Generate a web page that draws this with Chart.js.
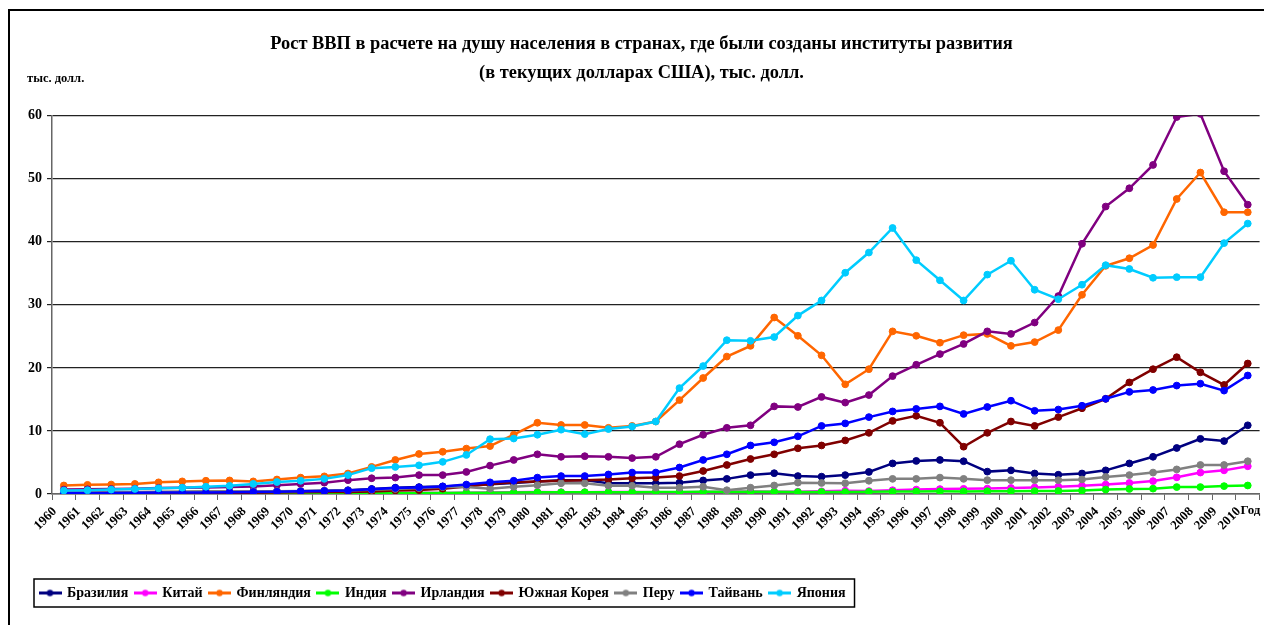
<!DOCTYPE html>
<html>
<head>
<meta charset="utf-8">
<script src="https://cdn.jsdelivr.net/npm/chart.js@4.4.0/dist/chart.umd.min.js"></script>
<style>
html, body { margin: 0; padding: 0; background: #fff; overflow: hidden; }
#wrap { position: relative; width: 1264px; height: 625px; }
</style>
</head>
<body>
<div id="wrap"><canvas id="gdpChart"></canvas></div>
<script>
const years = ['1960','1961','1962','1963','1964','1965','1966','1967','1968','1969',
  '1970','1971','1972','1973','1974','1975','1976','1977','1978','1979',
  '1980','1981','1982','1983','1984','1985','1986','1987','1988','1989',
  '1990','1991','1992','1993','1994','1995','1996','1997','1998','1999',
  '2000','2001','2002','2003','2004','2005','2006','2007','2008','2009','2010'];

const yTicks = [0, 10, 20, 30, 40, 50, 60];

// тыс. долл. на душу населения
const brazil = [0.20,0.20,0.25,0.28,0.26,0.26,0.30,0.33,0.35,0.38,
  0.44,0.50,0.60,0.80,1.00,1.10,1.20,1.35,1.55,1.75,
  2.00,2.20,2.20,1.70,1.70,1.70,1.80,2.15,2.40,3.00,
  3.30,2.85,2.75,3.00,3.50,4.85,5.25,5.40,5.20,3.55,
  3.75,3.25,3.05,3.25,3.75,4.85,5.90,7.30,8.75,8.40,10.90];
const china = [0.09,0.08,0.07,0.07,0.08,0.10,0.10,0.09,0.09,0.10,
  0.11,0.12,0.13,0.16,0.16,0.18,0.17,0.19,0.22,0.26,
  0.30,0.28,0.28,0.30,0.30,0.29,0.28,0.30,0.36,0.40,
  0.34,0.36,0.42,0.52,0.47,0.60,0.70,0.78,0.82,0.86,
  0.95,1.05,1.15,1.30,1.50,1.75,2.05,2.65,3.40,3.75,4.40];
const finland = [1.35,1.45,1.50,1.60,1.85,2.00,2.10,2.15,2.00,2.30,
  2.60,2.80,3.25,4.30,5.40,6.35,6.70,7.20,7.60,9.40,
  11.30,10.95,10.95,10.50,10.80,11.50,14.90,18.40,21.80,23.50,
  28.00,25.10,22.00,17.40,19.80,25.80,25.10,24.00,25.20,25.40,
  23.50,24.10,26.00,31.60,36.20,37.40,39.50,46.80,51.00,44.70,44.70];
const india = [0.08,0.09,0.09,0.10,0.11,0.12,0.09,0.10,0.10,0.11,
  0.11,0.12,0.12,0.14,0.16,0.16,0.16,0.19,0.20,0.22,
  0.27,0.27,0.28,0.29,0.28,0.30,0.31,0.34,0.36,0.35,
  0.37,0.31,0.32,0.30,0.35,0.38,0.40,0.42,0.41,0.44,
  0.45,0.46,0.48,0.55,0.70,0.80,0.85,1.10,1.10,1.25,1.35];
const ireland = [0.70,0.75,0.80,0.85,0.95,1.00,1.05,1.10,1.20,1.40,
  1.60,1.80,2.20,2.50,2.60,3.00,3.00,3.50,4.50,5.40,
  6.30,5.90,6.00,5.90,5.70,5.90,7.90,9.40,10.50,10.90,
  13.90,13.80,15.40,14.50,15.70,18.70,20.50,22.20,23.80,25.80,
  25.40,27.20,31.40,39.70,45.60,48.50,52.20,59.80,60.30,51.20,45.90];
const korea = [0.16,0.10,0.11,0.15,0.12,0.11,0.13,0.16,0.20,0.25,
  0.28,0.30,0.32,0.41,0.56,0.62,0.85,1.20,1.60,1.85,
  2.00,2.10,2.20,2.30,2.50,2.60,2.85,3.65,4.60,5.55,
  6.30,7.25,7.70,8.50,9.70,11.60,12.40,11.30,7.50,9.70,
  11.50,10.80,12.20,13.60,15.10,17.70,19.80,21.70,19.30,17.30,20.70];
const peru = [0.25,0.27,0.30,0.32,0.36,0.40,0.45,0.45,0.40,0.44,
  0.48,0.52,0.57,0.66,0.80,0.95,1.10,1.10,0.85,1.15,
  1.40,1.70,1.70,1.30,1.30,1.00,1.00,1.15,0.60,1.00,
  1.35,1.80,1.75,1.70,2.10,2.40,2.40,2.60,2.40,2.20,
  2.20,2.20,2.20,2.30,2.70,3.00,3.40,3.90,4.60,4.60,5.20];
const taiwan = [0.17,0.16,0.17,0.19,0.22,0.23,0.25,0.28,0.32,0.37,
  0.42,0.48,0.55,0.75,0.95,1.05,1.20,1.50,1.85,2.10,
  2.60,2.85,2.85,3.10,3.40,3.40,4.20,5.40,6.30,7.70,
  8.20,9.15,10.80,11.20,12.20,13.10,13.50,13.90,12.70,13.80,
  14.80,13.20,13.40,14.00,15.10,16.20,16.50,17.20,17.50,16.40,18.80];
const japan = [0.55,0.60,0.70,0.80,0.90,1.00,1.15,1.30,1.60,1.90,
  2.10,2.40,3.00,4.10,4.30,4.55,5.10,6.20,8.70,8.80,
  9.40,10.20,9.50,10.30,10.70,11.50,16.80,20.30,24.40,24.30,
  24.90,28.30,30.70,35.10,38.30,42.20,37.10,33.90,30.70,34.80,
  37.00,32.40,30.90,33.20,36.30,35.70,34.30,34.40,34.40,39.80,42.90];

const names = ['Бразилия','Китай','Финляндия','Индия','Ирландия','Южная Корея','Перу','Тайвань','Япония'];
const values = [brazil, china, finland, india, ireland, korea, peru, taiwan, japan];
const colors = ['#000080','#FF00FF','#FF6600','#00FF00','#800080','#800000','#808080','#0000FF','#00CCFF'];

const FONT = "'Liberation Serif', 'Times New Roman', serif";
Chart.defaults.font.family = FONT;
Chart.defaults.font.weight = 'bold';
Chart.defaults.color = '#000';

// small line+dot icons for the legend
function legendIcon(color) {
  const c = document.createElement('canvas');
  c.width = 23; c.height = 9;
  const g = c.getContext('2d');
  g.strokeStyle = color; g.lineWidth = 3;
  g.beginPath(); g.moveTo(0, 4.5); g.lineTo(23, 4.5); g.stroke();
  g.fillStyle = color;
  g.beginPath(); g.arc(11.5, 4.5, 3.2, 0, Math.PI * 2); g.fill();
  return c;
}
const icons = colors.map(legendIcon);

const extras = {
  id: 'extras',
  afterLayout(chart) {
    // legend box sits a bit right of the axis labels
    chart.legend.left += 13;
    chart.legend.right += 13;
  },
  beforeDraw(chart) {
    const ctx = chart.ctx;
    ctx.save();
    ctx.fillStyle = '#fff';
    ctx.fillRect(0, 0, chart.width, chart.height);
    ctx.restore();
  },
  afterDraw(chart) {
    const ctx = chart.ctx, area = chart.chartArea, lg = chart.legend;
    ctx.save();
    // outer frame
    ctx.strokeStyle = '#000';
    ctx.lineWidth = 2;
    ctx.strokeRect(9, 10, 1400, 800);
    // legend frame
    const hb = lg.legendHitBoxes;
    const first = hb[0], last = hb[hb.length - 1];
    ctx.lineWidth = 1.5;
    ctx.strokeRect(first.left - 6, first.top - 7, last.left + last.width + 9 - (first.left - 6), first.height + 14);
    // unit and axis captions
    ctx.fillStyle = '#000';
    ctx.font = 'bold 12.5px ' + FONT;
    ctx.textBaseline = 'middle';
    ctx.textAlign = 'left';
    ctx.fillText('тыс. долл.', 27, area.top - 37);
    ctx.font = 'bold 13px ' + FONT;
    ctx.fillText('Год', area.right - 19, area.bottom + 17);
    ctx.restore();
  }
};

new Chart(document.getElementById('gdpChart'), {
  type: 'line',
  data: {
    labels: years,
    datasets: names.map((name, i) => ({
      label: name,
      data: values[i],
      borderColor: colors[i],
      backgroundColor: colors[i],
      pointBackgroundColor: colors[i],
      pointBorderColor: colors[i],
      borderWidth: 2.5,
      pointRadius: 3.4,
      pointBorderWidth: 1,
      pointHoverRadius: 3.4,
      tension: 0,
      order: names.length - i
    }))
  },
  options: {
    responsive: true,
    maintainAspectRatio: false,
    animation: false,
    layout: { padding: { left: 20, right: 1, top: 0, bottom: 15 } },
    plugins: {
      tooltip: { enabled: false },
      title: {
        display: true,
        text: ['Рост ВВП в расчете на душу населения в странах, где были созданы институты развития',
               '(в текущих долларах США), тыс. долл.'],
        color: '#000',
        font: { size: 18.4, weight: 'bold', lineHeight: 1.57 },
        padding: { top: 30, bottom: 28 }
      },
      legend: {
        position: 'bottom',
        align: 'start',
        labels: {
          color: '#000',
          font: { size: 14, weight: 'bold' },
          usePointStyle: true,
          pointStyleWidth: 20,
          boxHeight: 9,
          padding: 7,
          sort: (a, b) => a.datasetIndex - b.datasetIndex,
          generateLabels: chart => Chart.defaults.plugins.legend.labels.generateLabels(chart)
            .map(l => Object.assign(l, { pointStyle: icons[l.datasetIndex] }))
        }
      }
    },
    scales: {
      x: {
        offset: true,
        afterFit: s => { s.height = 85; },
        grid: { offset: true, drawOnChartArea: false, drawTicks: true, tickLength: 6, color: '#666', lineWidth: 1 },
        border: { color: '#666', width: 1.5 },
        ticks: { autoSkip: false, minRotation: 45, maxRotation: 45, labelOffset: -9, padding: 4,
                 color: '#000', font: { size: 13, weight: 'bold' } }
      },
      y: {
        min: 0,
        max: 60,
        afterFit: s => { s.width = 32; },
        afterBuildTicks: s => { s.ticks = yTicks.map(v => ({ value: v })); },
        grid: { color: '#222', lineWidth: 1.2, drawTicks: true, tickLength: 5 },
        border: { color: '#666', width: 1.5 },
        ticks: { padding: 5, color: '#000', font: { size: 14, weight: 'bold' } }
      }
    }
  },
  plugins: [extras]
});
</script>
</body>
</html>
